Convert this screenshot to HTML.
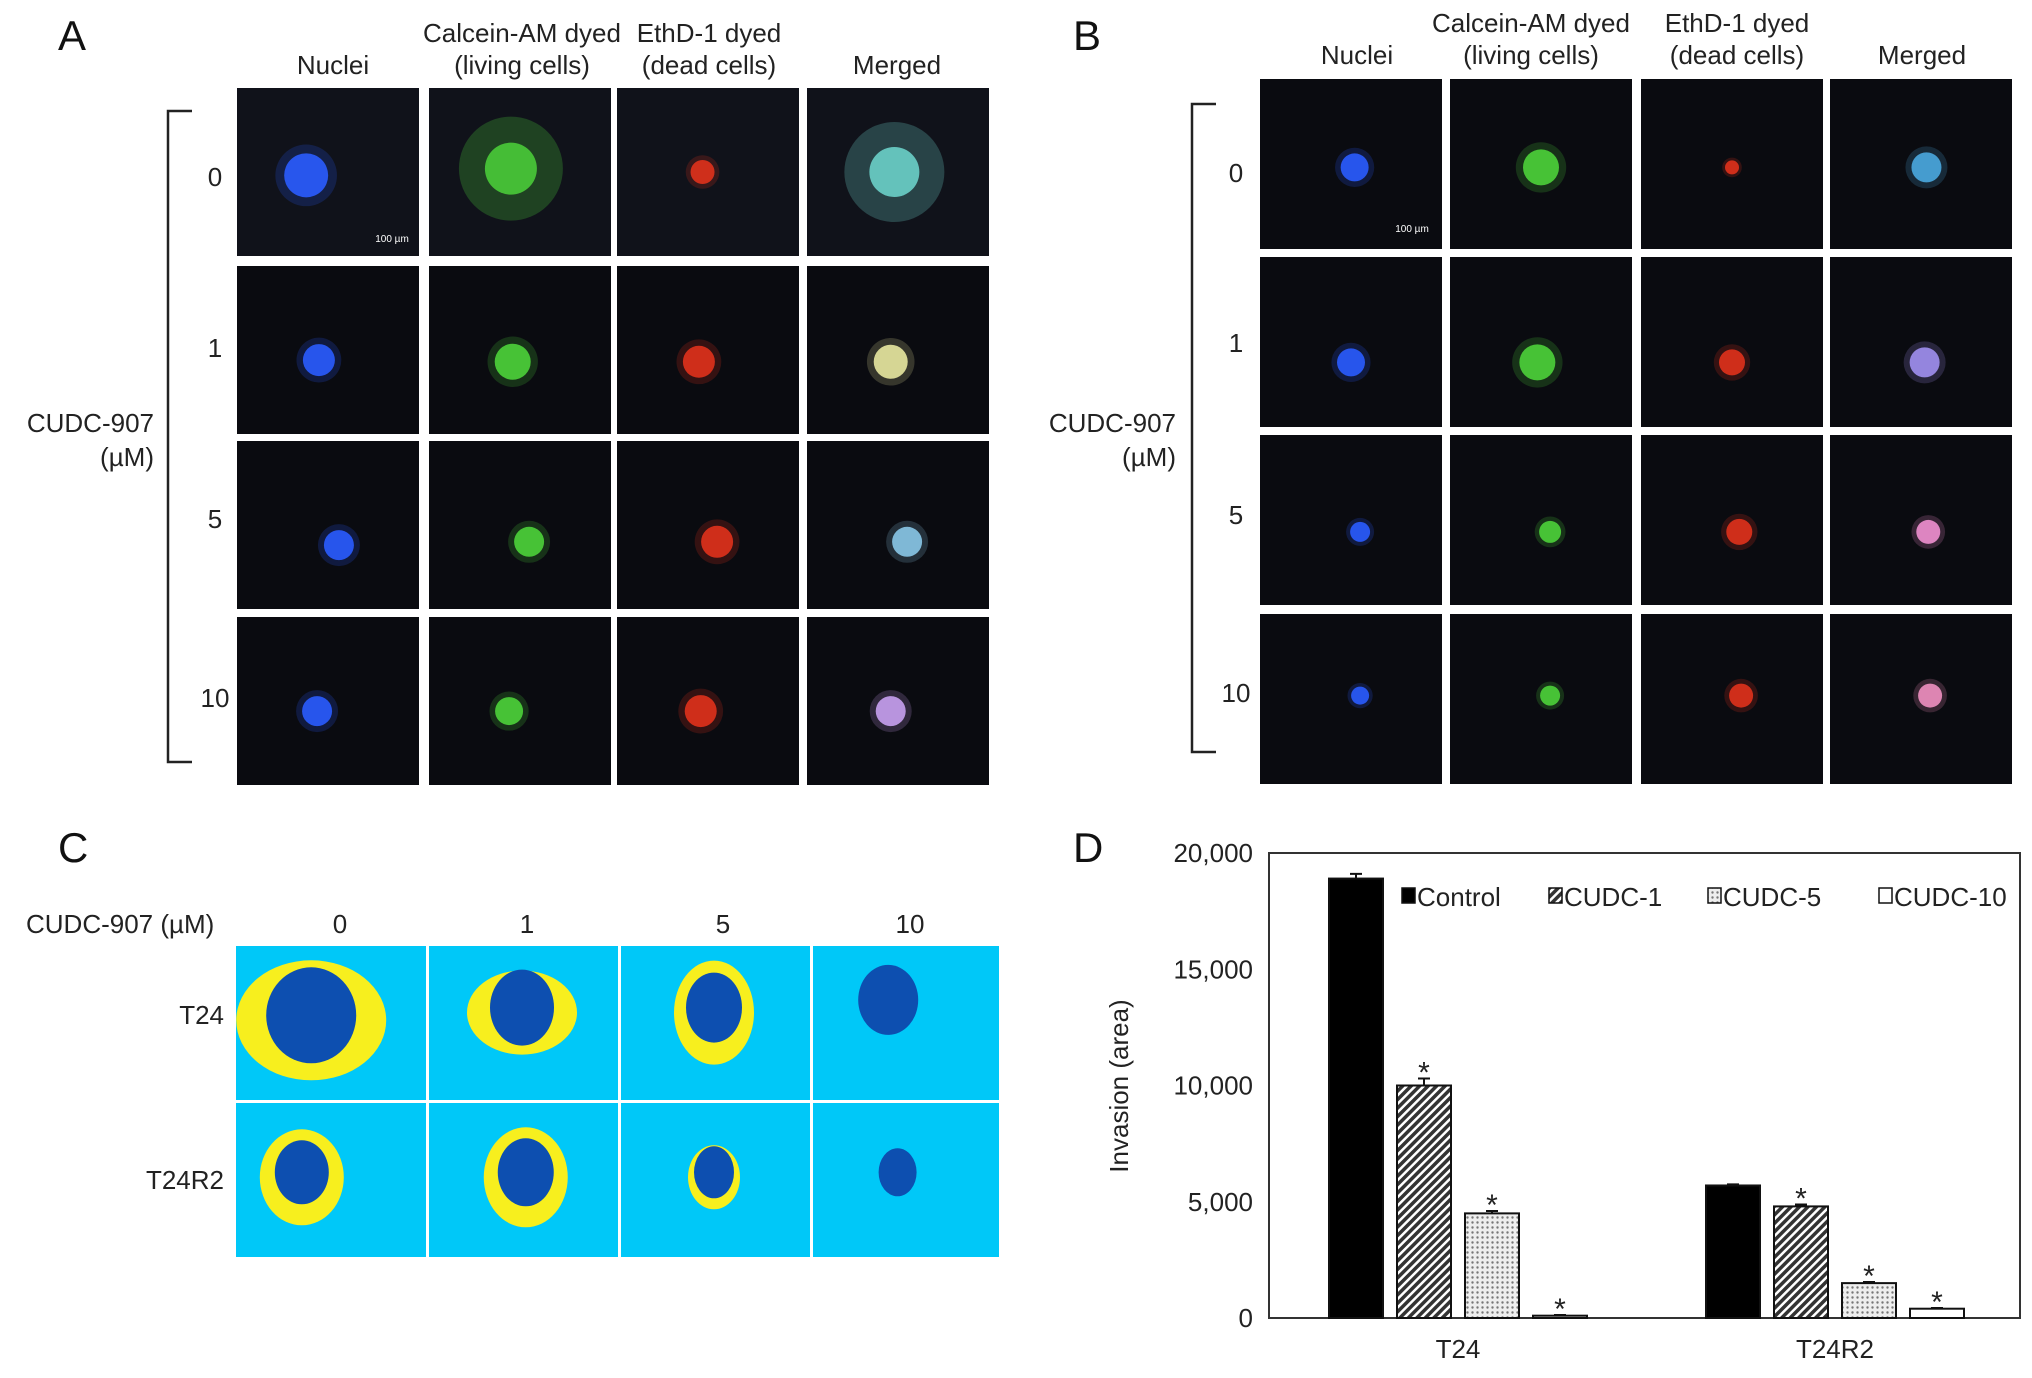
<!DOCTYPE html>
<html><head><meta charset="utf-8"><style>
body{margin:0;background:#fff;width:2032px;height:1373px;overflow:hidden;font-family:"Liberation Sans",sans-serif}
svg text{font-family:"Liberation Sans",sans-serif}
</style></head><body>
<svg id="fig" width="2032" height="1373" viewBox="0 0 2032 1373" xmlns="http://www.w3.org/2000/svg">
<defs>
<pattern id="hatch" width="6" height="6" patternUnits="userSpaceOnUse" patternTransform="rotate(45)"><rect width="6" height="6" fill="#fff"/><rect width="3.5" height="6" fill="#333"/></pattern>
<pattern id="dots" width="5" height="5" patternUnits="userSpaceOnUse"><rect width="5" height="5" fill="#eee"/><circle cx="2.5" cy="2.5" r="1.2" fill="#777"/></pattern>
</defs>
<g id="panels"></g>
<g id="chart"></g>
</svg>
<script>
const NS="http://www.w3.org/2000/svg";
function mk(tag,attrs,parent,txt){const e=document.createElementNS(NS,tag);for(const k in attrs)e.setAttribute(k,attrs[k]);if(txt!==undefined)e.textContent=txt;parent.appendChild(e);return e;}
const P=document.getElementById('panels');

[['A',58,50],['B',1073,50],['C',58,862],['D',1073,862]].forEach(([t,x,y])=>{
const e=mk('text',{x:x,y:y,'font-size':42,fill:'#111'},P,t);


});
function txt(x,y,t,size,anchor,name){const e=mk('text',{x:x,y:y,'font-size':size||26,fill:'#222','text-anchor':anchor||'middle'},P,t);


return e;}

const colors=['#2a5cff','#4cd23a','#e0321c','#8fd6d8'];
function grid(xs,ys,blobs,label,w,h){
 ys.forEach((y,ri)=>xs.forEach((x,ci)=>{
  const g=mk('g',{},P);
  
  
  mk('rect',{x:x,y:y,width:w,height:h,fill:(ri==0&&label=='a')?'#10121a':'#0a0b10'},g);
  const b=blobs[ri][ci];
  let col=colors[ci];
  if(ci==3) col=b[3]||col;
  if(b[2]>30){mk('circle',{cx:x+w*b[0],cy:y+h*b[1],r:b[2],fill:col,opacity:0.25},g);
   mk('circle',{cx:x+w*b[0],cy:y+h*b[1],r:b[2]*0.5,fill:col,opacity:0.85},g);}
  else{mk('circle',{cx:x+w*b[0],cy:y+h*b[1],r:b[2]*1.4,fill:col,opacity:0.2},g);
   mk('circle',{cx:x+w*b[0],cy:y+h*b[1],r:b[2],fill:col,opacity:0.9},g);}
 }));
}
const Ax=[237,429,617,807],Ay=[88,266,441,617];
grid(Ax,Ay,[
 [[0.38,0.52,22],[0.45,0.48,52],[0.47,0.5,12],[0.48,0.5,50,'#6fd8d0']],
 [[0.45,0.56,16],[0.46,0.57,18],[0.45,0.57,16],[0.46,0.57,17,'#e8e8a0']],
 [[0.56,0.62,15],[0.55,0.6,15],[0.55,0.6,16],[0.55,0.6,15,'#8ac8e8']],
 [[0.44,0.56,15],[0.44,0.56,14],[0.46,0.56,16],[0.46,0.56,15,'#c8a0f0']]
],'a',182,168);
const Bx=[1260,1450,1641,1830],By=[79,257,435,614];
grid(Bx,By,[
 [[0.52,0.52,14],[0.5,0.52,18],[0.5,0.52,7],[0.53,0.52,15,'#4aa8e0']],
 [[0.5,0.62,14],[0.48,0.62,18],[0.5,0.62,13],[0.52,0.62,15,'#a090f0']],
 [[0.55,0.57,10],[0.55,0.57,11],[0.54,0.57,13],[0.54,0.57,12,'#f090d0']],
 [[0.55,0.48,9],[0.55,0.48,10],[0.55,0.48,12],[0.55,0.48,12,'#f090c0']]
],'b',182,170);

function headers(cx,yTop,yBot,pre){
 txt(cx[0],yBot,'Nuclei',26,'middle',pre+'header-nuclei');
 txt(cx[1],yTop,'Calcein-AM dyed',26,'middle',pre+'header-calcein');
 txt(cx[1],yBot,'(living cells)',26,'middle',pre+'header-calcein-sub');
 txt(cx[2],yTop,'EthD-1 dyed',26,'middle',pre+'header-ethd');
 txt(cx[2],yBot,'(dead cells)',26,'middle',pre+'header-ethd-sub');
 txt(cx[3],yBot,'Merged',26,'middle',pre+'header-merged');
}
headers([333,522,709,897],42,74,'a-');
headers([1357,1531,1737,1922],32,64,'b-');
function rows(x,ys,bx,by0,by1,lx,pre){
 ['0','1','5','10'].forEach((t,i)=>txt(x,ys[i],t,26,'middle',pre+'row-label-'+t));
 const br=mk('path',{d:`M${bx+24},${by0} H${bx} V${by1} H${bx+24}`,fill:'none',stroke:'#222','stroke-width':2.5},P);
 
 
 txt(lx,432,'CUDC-907',26,'end',pre+'axis-label');
 txt(lx,466,'(\u00b5M)',26,'end',pre+'axis-unit');
}
rows(215,[186,357,528,707],168,111,762,154,'a-');
rows(1236,[182,352,524,702],1192,104,752,1176,'b-');
txt(392,242,'100 µm',10,'middle','a-scale-bar').setAttribute('fill','#fff');
txt(1412,232,'100 µm',10,'middle','b-scale-bar').setAttribute('fill','#fff');

const Cx=[236,428,620,813],Cy=[946,1103];
const cRect=mk('rect',{x:236,y:946,width:763,height:311,fill:'#00c8f8'},P);


[426,618,810].forEach(x=>{const l=mk('rect',{x:x,y:946,width:3,height:311,fill:'#fff'},P);});
const hl=mk('rect',{x:236,y:1100,width:763,height:3,fill:'#fff'},P);
const cb=[[[0.4,0.45,75,60,45,48],[0.5,0.4,55,42,32,38],[0.5,0.4,40,52,28,35],[0.4,0.35,0,0,30,35]],
 [[0.35,0.45,42,48,27,32],[0.52,0.45,42,50,28,34],[0.5,0.45,26,32,20,26],[0.45,0.45,0,0,19,24]]];
cb.forEach((row,ri)=>row.forEach((b,ci)=>{
 const g=mk('g',{},P);
 
 
 const cx=Cx[ci]+188*b[0],cy=Cy[ri]+154*b[1];
 if(b[2])mk('ellipse',{cx:cx,cy:cy+5,rx:b[2],ry:b[3],fill:'#f7ef1e'},g);
 mk('ellipse',{cx:cx,cy:cy,rx:b[4],ry:b[5],fill:'#0d4fb0'},g);
}));
txt(26,933,'CUDC-907 (\u00b5M)',26,'start','c-axis-label');
[['0',340],['1',527],['5',723],['10',910]].forEach(([t,x])=>txt(x,933,t,26,'middle','c-col-label-'+t));
txt(224,1024,'T24',26,'end','c-row-label-t24');
txt(224,1189,'T24R2',26,'end','c-row-label-t24r2');
</script>
<script>
const categories=['T24','T24R2'];
const seriesNames=['Control','CUDC-1','CUDC-5','CUDC-10'];
const controlVals=[18900,5700];
const cudc1Vals=[10000,4800];
const cudc5Vals=[4500,1500];
const cudc10Vals=[100,400];
const errVals=[[200,50],[300,80],[100,50],[30,30]];
const sigFlags=[[0,0],[1,1],[1,1],[1,1]];
const yTicks=[0,5000,10000,15000,20000];
const yTickLabels=['0','5,000','10,000','15,000','20,000'];

const C=document.getElementById('chart');
const NS2="http://www.w3.org/2000/svg";
function el(tag,a,p,t){const e=document.createElementNS(NS2,tag);for(const k in a)e.setAttribute(k,a[k]);if(t!==undefined)e.textContent=t;p.appendChild(e);return e;}
const X0=1269,X1=2020,Y0=1318,Y1=853,YMAX=20000;
const y=v=>Y0-(v/YMAX)*(Y0-Y1);
const groupCenter=[1458,1835];
const step=68,bw=54;
const x=(ci,si)=>groupCenter[ci]+(si-1.5)*step-bw/2;
const fills=['#000','url(#hatch)','url(#dots)','#fff'];
const series=[controlVals,cudc1Vals,cudc5Vals,cudc10Vals];

const frame=el('rect',{x:X0,y:Y1,width:X1-X0,height:Y0-Y1,fill:'none',stroke:'#333','stroke-width':2},C);


yTicks.forEach((v,i)=>{
 const t=el('text',{x:1253,y:y(v)+9,'font-size':26,'text-anchor':'end',fill:'#222'},C,yTickLabels[i]);
 
 
});
const yt=el('text',{x:0,y:0,'font-size':26,'text-anchor':'middle',fill:'#222',transform:'translate(1128,1086) rotate(-90)'},C,'Invasion (area)');


categories.forEach((c,ci)=>{
 const t=el('text',{x:groupCenter[ci],y:1358,'font-size':26,'text-anchor':'middle',fill:'#222'},C,c);
 
 
});
series.forEach((vals,si)=>vals.forEach((v,ci)=>{
 const b=el('rect',{x:x(ci,si),y:y(v),width:bw,height:Y0-y(v),fill:fills[si],stroke:'#111','stroke-width':2},C);
 
 
 const cx=x(ci,si)+bw/2, top=y(v+errVals[si][ci]);
 const e=el('path',{d:`M${cx},${y(v)} V${top} M${cx-6},${top} H${cx+6}`,stroke:'#111','stroke-width':2,fill:'none'},C);
 
 
 if(sigFlags[si][ci]){
  const s=el('text',{x:cx,y:top+4,'font-size':30,'text-anchor':'middle',fill:'#222'},C,'*');
  
  
 }
}));
const legX=[1402,1549,1708,1879];
seriesNames.forEach((n,i)=>{
 const g=el('g',{},C);
 
 
 el('rect',{x:legX[i],y:888,width:13,height:15,fill:fills[i],stroke:'#111','stroke-width':1.5},g);
 el('text',{x:legX[i]+15,y:906,'font-size':26,fill:'#222'},g,n);
});
</script>
</body></html>
